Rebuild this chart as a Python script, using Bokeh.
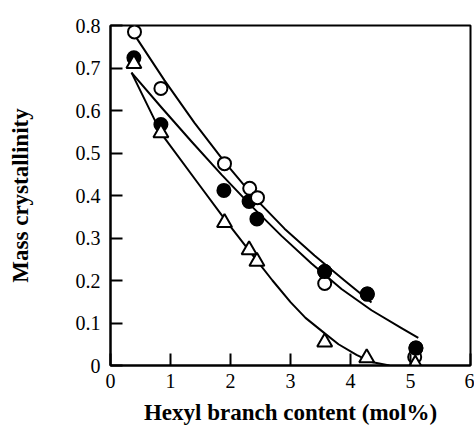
from bokeh.plotting import figure
from bokeh.models import FixedTicker, Range1d
from bokeh.embed import file_html
from bokeh.resources import INLINE

# Data
open_x = [0.40, 0.84, 1.90, 2.32, 2.45, 3.57, 5.07]
open_y = [0.785, 0.652, 0.475, 0.417, 0.395, 0.193, 0.02]
filled_x = [0.39, 0.84, 1.89, 2.31, 2.44, 3.57, 4.28, 5.09]
filled_y = [0.724, 0.567, 0.412, 0.386, 0.345, 0.221, 0.168, 0.041]
tri_x = [0.39, 0.84, 1.90, 2.31, 2.44, 3.57, 4.27, 5.08]
tri_y = [0.71, 0.547, 0.336, 0.272, 0.245, 0.055, 0.018, 0.003]

# Fitted curves
open_curve_x = [0.4, 0.9, 1.4, 1.9, 2.4, 2.9, 3.4, 3.9, 4.35]
open_curve_y = [0.778, 0.671, 0.571, 0.479, 0.395, 0.322, 0.259, 0.2, 0.148]
filled_curve_x = [0.35, 0.85, 1.35, 1.85, 2.35, 2.85, 3.35, 3.85, 4.35, 4.85, 5.13]
filled_curve_y = [0.689, 0.607, 0.527, 0.449, 0.375, 0.305, 0.24, 0.18, 0.13, 0.088, 0.065]
tri_curve_x = [0.35, 0.85, 1.49, 1.9, 2.45, 2.7, 3.0, 3.25, 3.55, 3.8, 4.1, 4.35, 4.65]
tri_curve_y = [0.689, 0.545, 0.423, 0.345, 0.245, 0.2, 0.149, 0.112, 0.078, 0.05, 0.025, 0.008, 0.0]

x_ticks = [0, 1, 2, 3, 4, 5, 6]
x_tick_labels = ["0", "1", "2", "3", "4", "5", "6"]
y_ticks = [0, 0.1, 0.2, 0.3, 0.4, 0.5, 0.6, 0.7, 0.8]
y_tick_labels = ["0", "0.1", "0.2", "0.3", "0.4", "0.5", "0.6", "0.7", "0.8"]

FONT = "Liberation Serif"

p = figure(width=474, height=427, output_backend="svg", toolbar_location=None,
           x_range=Range1d(0, 6), y_range=Range1d(0, 0.8),
           min_border_left=110, min_border_right=4, min_border_top=25, min_border_bottom=58)
p.background_fill_color = "white"
p.border_fill_color = "white"
p.outline_line_color = "black"
p.outline_line_width = 2
p.xgrid.visible = False
p.ygrid.visible = False

for ax in (p.xaxis[0], p.yaxis[0]):
    ax.axis_line_color = "black"
    ax.axis_line_width = 2
    ax.major_tick_in = 12
    ax.major_tick_out = 0
    ax.major_tick_line_width = 2
    ax.major_tick_line_color = "black"
    ax.minor_tick_line_color = None
    ax.major_label_text_font = FONT
    ax.major_label_text_font_size = "20px"
    ax.major_label_text_color = "black"
    ax.axis_label_text_font = FONT
    ax.axis_label_text_font_style = "bold"
    ax.axis_label_text_font_size = "23px"
    ax.axis_label_text_color = "black"

p.xaxis.ticker = FixedTicker(ticks=x_ticks)
p.xaxis.major_label_overrides = dict(zip(x_ticks, x_tick_labels))
p.yaxis.ticker = FixedTicker(ticks=y_ticks)
p.yaxis.major_label_overrides = dict(zip(y_ticks, y_tick_labels))
p.xaxis.major_label_standoff = 8
p.yaxis.major_label_standoff = 10
p.xaxis.axis_label = "Hexyl branch content (mol%)"
p.yaxis.axis_label = "Mass crystallinity"
p.xaxis.axis_label_standoff = 9
p.yaxis.axis_label_standoff = 40

# curves
p.line(open_curve_x, open_curve_y, line_color="black", line_width=2, line_join="round")
p.line(filled_curve_x, filled_curve_y, line_color="black", line_width=2, line_join="round")
p.line(tri_curve_x, tri_curve_y, line_color="black", line_width=2, line_join="round")

# markers
p.scatter(filled_x, filled_y, marker="circle", size=13, fill_color="black",
          line_color="black", line_width=2)
p.scatter(open_x, open_y, marker="circle", size=13, fill_color="white",
          line_color="black", line_width=2)
p.scatter(filled_x[-3:], filled_y[-3:], marker="circle", size=13, fill_color="black",
          line_color="black", line_width=2)
p.scatter(tri_x, tri_y, marker="triangle", size=15, fill_color="white",
          line_color="black", line_width=2)

open("out.html", "w").write(file_html(p, INLINE))
